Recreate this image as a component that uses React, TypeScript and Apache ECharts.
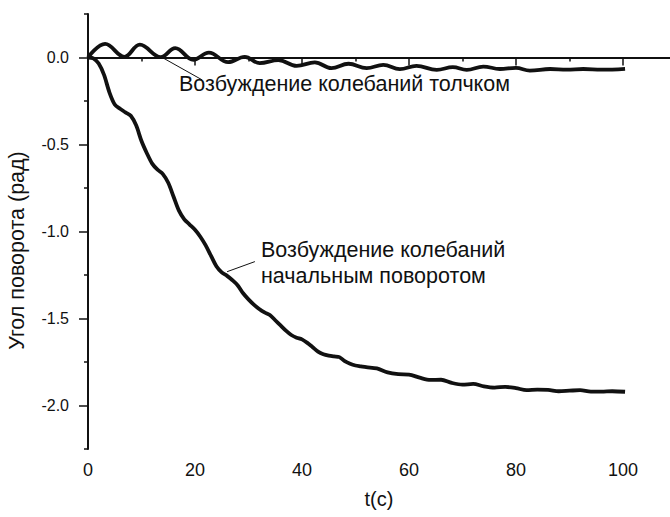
import React, { useEffect, useRef } from "react";
import * as echarts from "echarts";

// Series 1: excitation by a push (t, angle)
const t1 = [0, 3.2, 6.8, 9.7, 13.6, 16.3, 19.7, 22.6, 26.2, 29.3, 32.1, 35.6, 39, 42.4, 45.5, 48.7, 52.1, 55.2, 58.3, 61.4, 65.2, 68.2, 70.8, 73.9, 77, 80, 82.6, 86.4, 89.5, 92.6, 96, 100.4];
const y1 = [0, 0.078, 0.004, 0.074, 0.002, 0.054, -0.013, 0.028, -0.027, 0.004, -0.032, -0.015, -0.048, -0.028, -0.061, -0.036, -0.061, -0.042, -0.067, -0.048, -0.071, -0.055, -0.071, -0.052, -0.066, -0.06, -0.075, -0.066, -0.07, -0.066, -0.07, -0.065];

// Series 2: excitation by initial rotation (t, angle)
const t2 = [0, 1, 2, 3, 4, 5, 6, 7, 8, 9, 10, 11, 12, 13, 14, 15, 16, 17, 18, 19, 20, 21, 22, 23, 24, 25, 26, 27, 28, 29, 30, 31, 32, 33, 34, 35, 36, 37, 38, 39, 40, 41, 42, 43, 44, 45, 46, 47, 48, 49, 50, 51, 52, 54, 56, 58, 60, 62, 64, 66, 68, 70, 72, 74, 76, 78, 80, 82, 84, 86, 88, 90, 92, 94, 96, 98, 100.4];
const y2 = [0, -0.005, -0.035, -0.1, -0.2, -0.27, -0.295, -0.315, -0.335, -0.39, -0.48, -0.55, -0.61, -0.645, -0.67, -0.72, -0.8, -0.88, -0.93, -0.96, -0.99, -1.03, -1.08, -1.14, -1.2, -1.235, -1.255, -1.28, -1.31, -1.355, -1.39, -1.42, -1.445, -1.465, -1.48, -1.51, -1.54, -1.57, -1.595, -1.61, -1.62, -1.64, -1.665, -1.69, -1.705, -1.713, -1.718, -1.722, -1.745, -1.76, -1.77, -1.775, -1.78, -1.787, -1.81, -1.82, -1.822, -1.84, -1.853, -1.852, -1.87, -1.88, -1.876, -1.89, -1.897, -1.893, -1.9, -1.912, -1.909, -1.91, -1.918, -1.915, -1.912, -1.92, -1.92, -1.918, -1.921];

const xMajorTicks = [0, 20, 40, 60, 80, 100];
const xMinorTicks = [10, 30, 50, 70, 90];
const yMajorTicks = [-2, -1.5, -1, -0.5, 0];
const yMinorTicks = [-2.25, -1.75, -1.25, -0.75, -0.25, 0.25];

const xName = "t(c)";
const yName = "Угол поворота (рад)";
const label1 = "Возбуждение колебаний толчком";
const label2a = "Возбуждение колебаний";
const label2b = "начальным поворотом";

// leader lines (data coords)
const leader1 = [[14.0, -0.002], [21.3, -0.128]];
const leader2 = [[26.0, -1.231], [31.2, -1.173]];

const FONT = "'Liberation Sans', Arial, sans-serif";
const INK = "#111";

export default function App() {
  const ref = useRef<HTMLDivElement>(null);
  useEffect(() => {
    document.body.style.margin = "0";
    const chart = echarts.init(ref.current!, null, { renderer: "svg" });
    const xMin = 0, xMax = 108.8, yMin = -2.25, yMax = 0.25;
    const zip = (a: number[], b: number[]) => a.map((v, i) => [v, b[i]]);
    chart.setOption({
      animation: false,
      backgroundColor: "#fff",
      grid: { left: 88, right: 0, top: 14, bottom: 68, outerBoundsMode: "none", containLabel: false },
      xAxis: [
        {
          type: "value", min: xMin, max: xMax, position: "bottom",
          name: xName, nameLocation: "middle", nameGap: 40,
          nameTextStyle: { fontSize: 20, color: INK, fontFamily: FONT },
          axisLine: { show: true, lineStyle: { color: INK, width: 2 } },
          axisTick: { show: true, customValues: xMajorTicks, length: 8, lineStyle: { color: INK, width: 1.5 } },
          axisLabel: { customValues: xMajorTicks, fontSize: 18, color: INK, fontFamily: FONT, margin: 12 },
          splitLine: { show: false },
        },
        {
          type: "value", min: xMin, max: xMax, position: "bottom",
          axisLine: { show: false },
          axisTick: { show: true, customValues: xMinorTicks, length: 4, lineStyle: { color: INK, width: 1.5 } },
          axisLabel: { show: false },
          splitLine: { show: false },
        },
      ],
      yAxis: [
        {
          type: "value", min: yMin, max: yMax, position: "left",
          name: yName, nameLocation: "middle", nameGap: 60,
          nameTextStyle: { fontSize: 21.5, color: INK, fontFamily: FONT, padding: [0, 38, 0, 0] },
          axisLine: { show: true, lineStyle: { color: INK, width: 2 } },
          axisTick: { show: true, customValues: yMajorTicks, length: 9, lineStyle: { color: INK, width: 1.5 } },
          axisLabel: { customValues: yMajorTicks, fontSize: 16, color: INK, fontFamily: FONT, margin: 19, formatter: (v: number) => v.toFixed(1) },
          splitLine: { show: false },
        },
        {
          type: "value", min: yMin, max: yMax, position: "left",
          axisLine: { show: false },
          axisTick: { show: true, customValues: yMinorTicks, length: 4, lineStyle: { color: INK, width: 1.5 } },
          axisLabel: { show: false },
          splitLine: { show: false },
        },
      ],
      series: [
        {
          type: "line", xAxisIndex: 0, yAxisIndex: 0,
          data: zip(t1, y1), showSymbol: false, smooth: 0.4,
          lineStyle: { color: INK, width: 3.8 },
          markLine: {
            silent: true, symbol: "none", animation: false,
            label: { show: false },
            data: [
              { yAxis: 0, lineStyle: { color: INK, width: 1.5, type: "solid" } },
              [
                { coord: leader1[0], lineStyle: { color: INK, width: 1, type: "solid" } },
                { coord: leader1[1] },
              ],
            ],
          },
        },
        {
          type: "line", xAxisIndex: 0, yAxisIndex: 0,
          data: zip(t2, y2), showSymbol: false, smooth: 0.3,
          lineStyle: { color: INK, width: 3.8 },
          markLine: {
            silent: true, symbol: "none", animation: false,
            label: { show: false },
            data: [
              [
                { coord: leader2[0], lineStyle: { color: INK, width: 1, type: "solid" } },
                { coord: leader2[1] },
              ],
            ],
          },
        },
      ],
      graphic: [
        { type: "text", left: 179, top: 73, style: { text: label1, fontSize: 21.5, fill: INK, fontFamily: FONT } },
        { type: "text", left: 261, top: 239, style: { text: label2a, fontSize: 21.5, fill: INK, fontFamily: FONT } },
        { type: "text", left: 261, top: 265, style: { text: label2b, fontSize: 21.5, fill: INK, fontFamily: FONT } },
      ],
    });
    return () => chart.dispose();
  }, []);
  return <div ref={ref} style={{ width: 670, height: 517 }} />;
}
